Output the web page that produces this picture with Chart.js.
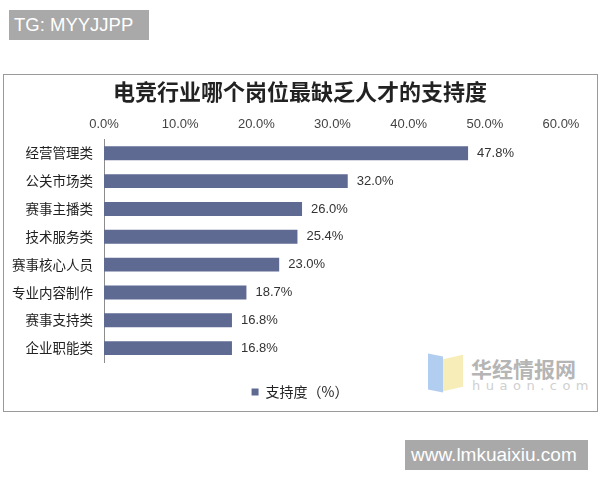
<!DOCTYPE html>
<html>
<head>
<meta charset="utf-8">
<script src="https://cdn.jsdelivr.net/npm/chart.js@4.4.0/dist/chart.umd.min.js"></script>
<style>
  html, body { margin: 0; padding: 0; background: #fff; }
  #wrap { position: relative; width: 600px; height: 480px; overflow: hidden; }
  #box { position: absolute; left: 3px; top: 74px; width: 593px; height: 336px; border: 1px solid #9a9a9a; }
  #chart { position: absolute; left: 0; top: 0; }
  .tag { position: absolute; background: #a9a9a9; color: #fff; font-family: "Liberation Sans", Arial, sans-serif; }
  #tg { left: 9px; top: 10px; width: 140px; height: 30px; line-height: 30px; font-size: 18.5px; padding-left: 5px; box-sizing: border-box; }
  #site { left: 405px; top: 440px; width: 183px; height: 30px; line-height: 30px; font-size: 19px; padding-left: 6px; box-sizing: border-box; }
  #logo1 { position: absolute; left: 428px; top: 355px; width: 15px; height: 36px; background: #a9c8ee; transform: skewY(12deg); opacity: .9; }
  #logo2 { position: absolute; left: 443px; top: 357px; width: 20px; height: 32px; background: #f6ebb0; transform: skewY(-12deg); opacity: .9; }
  #wm1 { position: absolute; left: 471px; top: 353px; font: bold 21px "Noto Sans CJK SC", sans-serif; color: #b5b5b5; }
  #wm2 { position: absolute; left: 472px; top: 378px; font: 13px "DejaVu Sans", sans-serif; color: #d0d0d0; letter-spacing: 5.5px; }
</style>
</head>
<body>
<div id="wrap">
  <div id="box"></div>
  <div id="logo1"></div>
  <div id="logo2"></div>
  <div id="wm1">华经情报网</div>
  <div id="wm2">huaon.com</div>
  <canvas id="chart" width="600" height="480"></canvas>
  <div class="tag" id="tg">TG: MYYJJPP</div>
  <div class="tag" id="site">www.lmkuaixiu.com</div>
</div>
<script>
const categories = ['经营管理类', '公关市场类', '赛事主播类', '技术服务类', '赛事核心人员', '专业内容制作', '赛事支持类', '企业职能类'];
const support = [47.8, 32.0, 26.0, 25.4, 23.0, 18.7, 16.8, 16.8];
const seriesName = '支持度（%）';
const chartTitle = '电竞行业哪个岗位最缺乏人才的支持度';

const barColor = '#5f6a93';

// value labels to the right of each bar
const valueLabels = {
  id: 'valueLabels',
  afterDatasetsDraw(chart) {
    const ctx = chart.ctx;
    const meta = chart.getDatasetMeta(0);
    ctx.save();
    ctx.font = '13px "Liberation Sans", Arial, sans-serif';
    ctx.fillStyle = '#333';
    ctx.textBaseline = 'middle';
    ctx.textAlign = 'left';
    meta.data.forEach((bar, i) => {
      ctx.fillText(support[i].toFixed(1) + '%', bar.x + 9, bar.y);
    });
    ctx.restore();
  }
};

new Chart(document.getElementById('chart'), {
  type: 'bar',
  data: {
    labels: categories,
    datasets: [{
      label: seriesName,
      data: support,
      backgroundColor: barColor,
      barPercentage: 0.5,
      categoryPercentage: 1.0
    }]
  },
  options: {
    indexAxis: 'y',
    responsive: false,
    animation: false,
    layout: { padding: { top: 78, left: 0, right: 0, bottom: 71 } },
    scales: {
      x: {
        position: 'top',
        min: 0,
        max: 60,
        afterFit(scale) { scale.height = 28; },
        grid: { display: false, drawTicks: false },
        border: { display: false },
        ticks: {
          stepSize: 10,
          padding: 7,
          color: '#444',
          font: { family: '"Liberation Sans", Arial, sans-serif', size: 13 },
          callback: v => v.toFixed(1) + '%'
        }
      },
      y: {
        afterFit(scale) { scale.width = 104; },
        grid: { display: false, drawTicks: false },
        border: { display: true, color: '#8c8c8c', width: 1 },
        ticks: {
          padding: 11,
          color: '#222',
          font: { family: '"Noto Sans CJK SC", sans-serif', size: 13.5 }
        }
      },
      // empty right-hand spacer so the title and legend stay centred on the page
      yRight: {
        type: 'category',
        axis: 'y',
        position: 'right',
        afterFit(scale) { scale.width = 39; },
        grid: { display: false, drawTicks: false },
        border: { display: false },
        ticks: { display: false }
      }
    },
    plugins: {
      title: {
        display: true,
        text: chartTitle,
        color: '#222',
        font: { family: '"Noto Sans CJK SC", sans-serif', size: 22, weight: 'bold' },
        padding: { top: 0, bottom: 7 }
      },
      legend: {
        position: 'bottom',
        labels: {
          color: '#222',
          boxWidth: 7,
          boxHeight: 7,
          padding: 23,
          font: { family: '"Noto Sans CJK SC", sans-serif', size: 14 }
        }
      },
      tooltip: { enabled: false }
    }
  },
  plugins: [valueLabels]
});
</script>
</body>
</html>
